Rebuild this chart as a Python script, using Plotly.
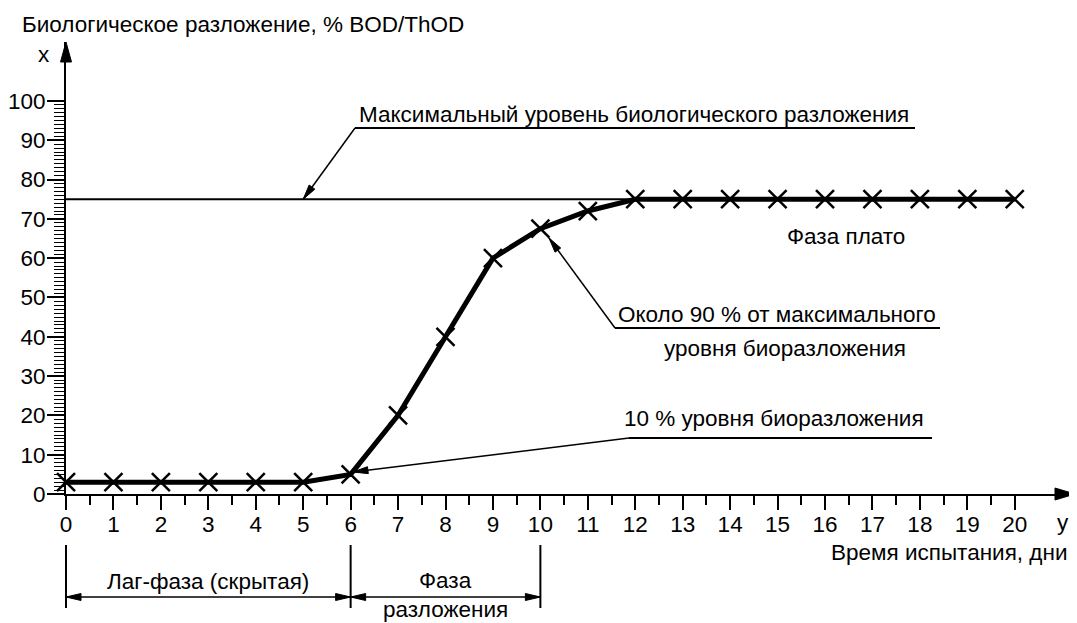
import math
import plotly.graph_objects as go

# ---------------- data ----------------
days = list(range(0, 21))
biodeg = [3, 3, 3, 3, 3, 3, 5, 20, 40, 60, 67.5, 72, 75, 75, 75, 75, 75, 75, 75, 75, 75]
max_level = 75
x_tickvals = list(range(0, 21))
x_minor = [i + 0.5 for i in range(0, 20)]
y_tickvals = list(range(0, 101, 10))
y_minor = list(range(0, 101))

title_text = "Биологическое разложение, % BOD/ThOD"
xlabel_text = "Время испытания, дни"
max_text = "Максимальный уровень биологического разложения"
plateau_text = "Фаза плато"
p90_line1 = "Около 90 % от максимального"
p90_line2 = "уровня биоразложения"
p10_text = "10 % уровня биоразложения"
lag_text = "Лаг-фаза (скрытая)"
deg_line1 = "Фаза"
deg_line2 = "разложения"

# ---------------- geometry (page pixels) ----------------
W, H = 1077, 623
OFF = 8                                  # default body margin of the html page
L, R, T, B = 66, 1075, 42, 494          # plot area in page pixels
XMAX = 21.27
YMAX = 115.0
FONT = "Liberation Sans, Arial, sans-serif"
FS = 22.5


def pix(d, v):
    return (L + d * (R - L) / XMAX, B - v * (B - T) / YMAX)


def paper(px, py):
    return ((px - L) / (R - L), (B - py) / (B - T))


shapes = []
annotations = []


def line_px(p0, p1, width=1.5):
    a = paper(*p0)
    b = paper(*p1)
    shapes.append(dict(type="line", xref="paper", yref="paper",
                       x0=a[0], y0=a[1], x1=b[0], y1=b[1],
                       line=dict(color="black", width=width)))


def head_px(tip, tail, length=14, width=6):
    ux, uy = tip[0] - tail[0], tip[1] - tail[1]
    n = math.hypot(ux, uy)
    ux, uy = ux / n, uy / n
    bx, by = tip[0] - ux * length, tip[1] - uy * length
    nx, ny = -uy, ux
    pts = [tip, (bx + nx * width / 2, by + ny * width / 2),
           (bx - nx * width / 2, by - ny * width / 2)]
    pp = [paper(*p) for p in pts]
    path = "M {} {} L {} {} L {} {} Z".format(pp[0][0], pp[0][1], pp[1][0], pp[1][1], pp[2][0], pp[2][1])
    shapes.append(dict(type="path", xref="paper", yref="paper", path=path,
                       fillcolor="black", line=dict(color="black", width=1)))


def arrow_px(tail, tip, width=1.5, length=14, hw=6):
    line_px(tail, tip, width)
    head_px(tip, tail, length, hw)


def text_px(px, py, text, xanchor="center", yanchor="middle", size=FS):
    a = paper(px, py)
    annotations.append(dict(xref="paper", yref="paper", x=a[0], y=a[1], text=text,
                            showarrow=False, xanchor=xanchor, yanchor=yanchor,
                            font=dict(family=FONT, size=size, color="black")))


# axis arrowheads
head_px(pix(0, YMAX), pix(0, YMAX - 10), length=20, width=11)
head_px(pix(XMAX, 0), pix(XMAX - 1, 0), length=20, width=12)

# max level horizontal line
shapes.append(dict(type="line", xref="x", yref="y", x0=0, x1=12, y0=max_level, y1=max_level,
                   line=dict(color="black", width=2), layer="below"))

# Max level leader
arrow_px((355, 128), pix(5.0, max_level), width=1.5, length=15, hw=7)
line_px((355, 128), (915, 128), 2)
text_px(357, 114, max_text, xanchor="left")

# plateau text
text_px(846, 236, plateau_text)

# ~90% leader
arrow_px((615, 328), (549, 238), width=1.5, length=15, hw=7)
line_px((615, 328), (940, 328), 2)
text_px(777, 314, p90_line1)
text_px(785, 348, p90_line2)

# 10% leader
arrow_px((629, 438), (353, 472), width=1.5, length=15, hw=7)
line_px((629, 438), (932, 438), 2)
text_px(774, 418, p10_text)

# axis letters and x label
text_px(44, 54, "x")
text_px(1063, 522, "y")
text_px(1069, 552, xlabel_text, xanchor="right")
text_px(20, 24, title_text, xanchor="left")

# bottom brackets
for d in (0, 6, 10):
    px, _ = pix(d, 0)
    line_px((px, 545), (px, 608), 2)
yb = 597
for d0, d1 in ((0, 6), (6, 10)):
    p0 = pix(d0, 0)[0]
    p1 = pix(d1, 0)[0]
    line_px((p0, yb), (p1, yb), 1.5)
    head_px((p0, yb), (p1, yb), length=15, width=7)
    head_px((p1, yb), (p0, yb), length=15, width=7)
text_px(pix(3, 0)[0], 581, lag_text)
text_px(pix(8, 0)[0], 580, deg_line1)
text_px(pix(8, 0)[0], 609, deg_line2)

fig = go.Figure()
fig.add_trace(go.Scatter(
    x=days, y=biodeg, mode="lines+markers",
    line=dict(color="black", width=5),
    marker=dict(symbol="x-thin", size=18, color="black", line=dict(width=2.5, color="black")),
    cliponaxis=False, showlegend=False, hoverinfo="skip"))

fig.update_layout(
    width=W - OFF, height=H - OFF,
    margin=dict(l=L - OFF, r=W - R, t=T - OFF, b=H - B, pad=0),
    paper_bgcolor="white", plot_bgcolor="white",
    font=dict(family=FONT, size=FS, color="black"),
    shapes=shapes, annotations=annotations, showlegend=False,
    xaxis=dict(range=[0, XMAX], showgrid=False, zeroline=False, showline=True,
               linecolor="black", linewidth=2, ticks="outside", ticklen=14, tickwidth=2,
               tickcolor="black", tickmode="array", tickvals=x_tickvals,
               ticktext=[str(v) for v in x_tickvals], tickfont=dict(family=FONT, size=FS),
               automargin=False, ticklabelstandoff=-5,
               minor=dict(tickmode="array", tickvals=x_minor, ticks="outside", ticklen=9,
                          tickwidth=2, tickcolor="black", showgrid=False)),
    yaxis=dict(range=[0, YMAX], showgrid=False, zeroline=False, showline=True,
               linecolor="black", linewidth=2, ticks="outside", ticklen=17, tickwidth=2,
               tickcolor="black", tickmode="array", tickvals=y_tickvals,
               ticktext=[str(v) for v in y_tickvals], tickfont=dict(family=FONT, size=FS),
               automargin=False, ticklabelstandoff=-3,
               minor=dict(tickmode="array", tickvals=y_minor, ticks="outside", ticklen=10,
                          tickwidth=1, tickcolor="black", showgrid=False)),
)

fig.write_html("out.html")
